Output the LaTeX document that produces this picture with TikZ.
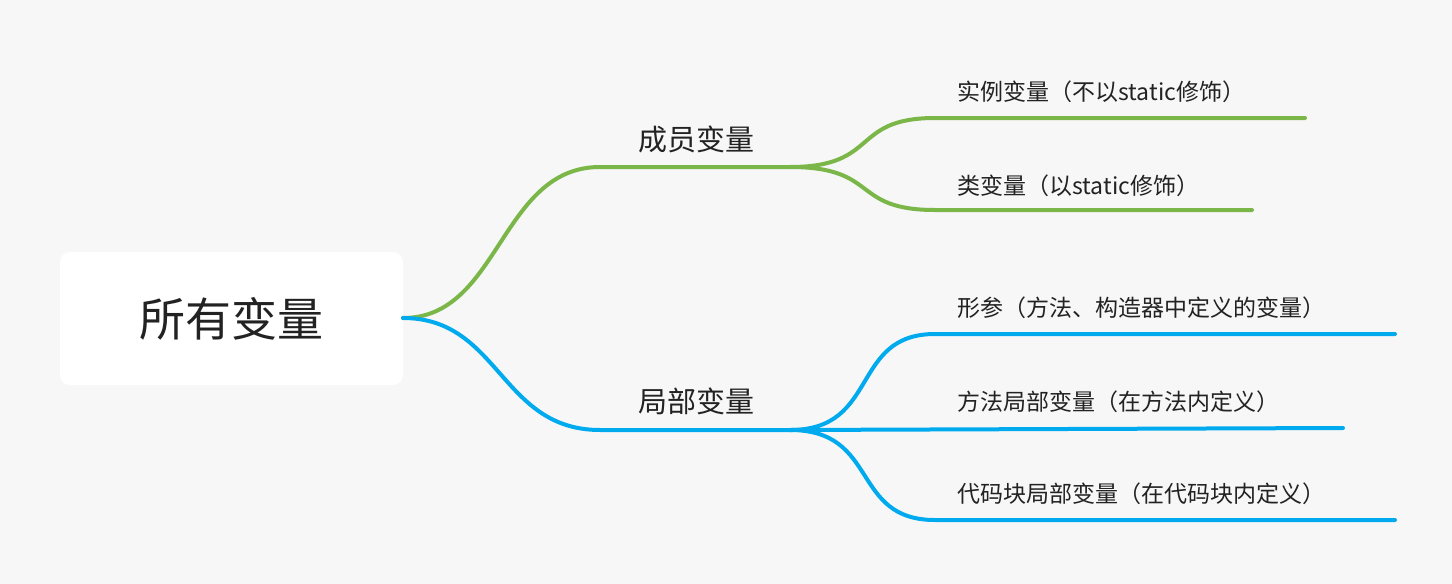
\documentclass[tikz,border=0pt]{standalone}
\usepackage{fontspec}
\setmainfont{Noto Sans CJK SC}
\definecolor{bg}{HTML}{F7F7F7}
\definecolor{grn}{HTML}{7AB648}
\definecolor{blu}{HTML}{00AAEE}
\definecolor{txt}{HTML}{222222}
\begin{document}
\begin{tikzpicture}[x=0.5pt,y=-0.5pt,
  br/.style={line width=2pt,line cap=round},
  leaf/.style={anchor=west,inner sep=0,text=txt,font=\fontsize{11.5}{13}\selectfont},
  mid/.style={inner sep=0,text=txt,font=\fontsize{14.5}{16}\selectfont}]
\fill[bg] (0,0) rectangle (1452,584);
\useasboundingbox (0,0) rectangle (1452,584);
\node[fill=white,rounded corners=5pt,minimum width=171.5pt,minimum height=66.5pt,inner sep=0,
  font=\fontsize{23}{26}\selectfont,text=txt] (root) at (231.5,318.5) {所有变量};
\coordinate (r) at (403,318);
\coordinate (m1) at (790,167);
\coordinate (m2) at (790,430);
\coordinate (a1) at (1305,118);
\coordinate (a2) at (1252,210);
\coordinate (b1) at (1395,334);
\coordinate (b2) at (1343,428);
\coordinate (b3) at (1395,520);
\draw[br,grn] (r) .. controls (500,318) and (500,167) .. (600,167) -- (m1);
\draw[br,blu] (r) .. controls (500,318) and (500,430) .. (600,430) -- (m2);
\draw[br,grn] (m1) .. controls (880,167) and (850,118) .. (935,118) -- (a1);
\draw[br,grn] (m1) .. controls (880,167) and (850,210) .. (935,210) -- (a2);
\draw[br,blu] (m2) .. controls (880,430) and (850,334) .. (935,334) -- (b1);
\draw[br,blu] (m2) -- (b2);
\draw[br,blu] (m2) .. controls (880,430) and (850,520) .. (935,520) -- (b3);
\node[mid] (n1) at (696,139) {成员变量};
\node[mid] (n2) at (696,401) {局部变量};
\node[leaf] (l1) at (957,92) {实例变量（不以static修饰）};
\node[leaf] (l2) at (957,186) {类变量（以static修饰）};
\node[leaf] (l3) at (957,308) {形参（方法、构造器中定义的变量）};
\node[leaf] (l4) at (957,402) {方法局部变量（在方法内定义）};
\node[leaf] (l5) at (957,494) {代码块局部变量（在代码块内定义）};
\end{tikzpicture}
\end{document}
